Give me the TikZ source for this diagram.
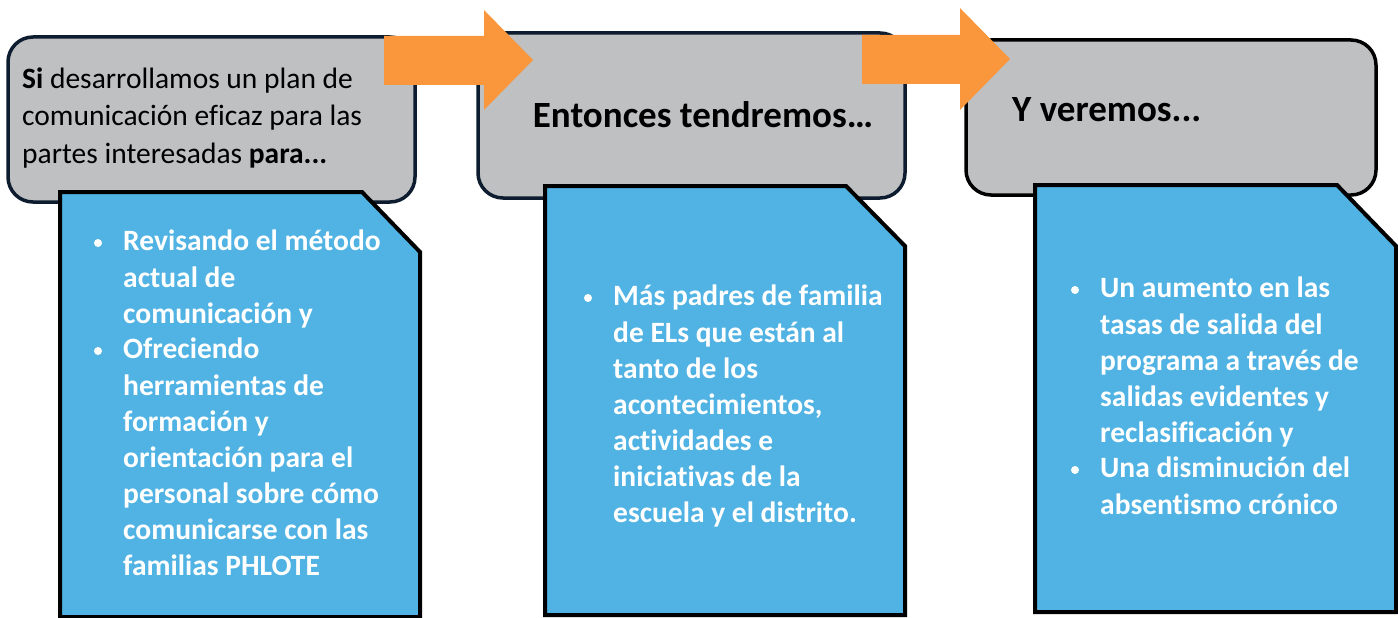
\documentclass[tikz,border=0pt]{standalone}
\usepackage{fontspec}
\setmainfont[Ligatures=NoCommon]{Carlito}
\usetikzlibrary{positioning}
\definecolor{boxgray}{HTML}{BFC0C2}
\definecolor{boxblue}{HTML}{50B3E3}
\definecolor{arrorange}{HTML}{FA963B}
\definecolor{edgenavy}{HTML}{0E1C2F}
\tikzset{font=\fontsize{29.5}{37.5}\selectfont}
\tikzstyle{graybox}=[fill=boxgray,draw=edgenavy,line width=3.5pt,rounded corners=25pt]
\tikzstyle{bluebox}=[fill=boxblue,draw=black,line width=4pt,line join=miter]
\tikzstyle{flowarrow}=[fill=arrorange]
\tikzstyle{headtext}=[inner sep=0pt,align=left,text=black]
\tikzstyle{bluetext}=[inner sep=0pt,align=left,text=white,font=\fontsize{29.5}{36.1}\selectfont\bfseries]
\tikzstyle{bul}=[circle,fill=white,inner sep=0pt,minimum size=8pt]

\begin{document}
\begin{tikzpicture}[x=1pt,y=-1pt]
	\useasboundingbox (0,0) rectangle (1398,618);
	% gray heads
	\draw[style=graybox] (8,37) rectangle (415,202);
	\draw[style=graybox] (478,33) rectangle (905,198);
	\draw[style=graybox,draw=black] (966,40) rectangle (1376,195);
	% blue pages with cut corner
	\draw[style=bluebox] (60,192) -- (362,192) -- (420,252) -- (420,617) -- (60,617) -- cycle;
	\draw[style=bluebox] (545,186) -- (846,186) -- (905,246) -- (905,615) -- (545,615) -- cycle;
	\draw[style=bluebox] (1035,185) -- (1337,185) -- (1396,246) -- (1396,612) -- (1035,612) -- cycle;
	% arrows
	\fill[style=flowarrow] (384,36) -- (484,36) -- (484,10) -- (533,60) -- (484,110) -- (484,85) -- (384,85) -- cycle;
	\fill[style=flowarrow] (862,35) -- (960,35) -- (960,8) -- (1010,59) -- (960,110) -- (960,84) -- (862,84) -- cycle;
	% head texts
	\node[style=headtext,anchor=west] (si) at (22,118) {\textbf{Si} desarrollamos un plan de\\comunicación eficaz para las\\partes interesadas \textbf{para...}};
	\node[style=headtext,font=\fontsize{37}{44}\selectfont\bfseries] (entonces) at (703,115) {Entonces tendremos…};
	\node[style=headtext,anchor=west,font=\fontsize{37}{44}\selectfont\bfseries] (veremos) at (1012,110) {Y veremos...};
	% bullet texts
	\node[style=bluetext,anchor=north west] (rev) at (123,230) {Revisando el método\\actual de\\comunicación y};
	\node[style=bluetext,anchor=north west] (ofr) at (123,338) {Ofreciendo\\herramientas de\\formación y\\orientación para el\\personal sobre cómo\\comunicarse con las\\familias PHLOTE};
	\node[style=bluetext,anchor=north west] (mas) at (613,285) {Más padres de familia\\de ELs que están al\\tanto de los\\acontecimientos,\\actividades e\\iniciativas de la\\escuela y el distrito.};
	\node[style=bluetext,anchor=north west] (aum) at (1100,277) {Un aumento en las\\tasas de salida del\\programa a través de\\salidas evidentes y\\reclasificación y};
	\node[style=bluetext,anchor=north west] (dis) at (1100,457) {Una disminución del\\absentismo crónico};
	\node[style=bul] (b1) at ([shift={(-25,13)}]rev.north west) {};
	\node[style=bul] (b2) at ([shift={(-25,13)}]ofr.north west) {};
	\node[style=bul] (b3) at ([shift={(-25,13)}]mas.north west) {};
	\node[style=bul] (b4) at ([shift={(-25,13)}]aum.north west) {};
	\node[style=bul] (b5) at ([shift={(-25,13)}]dis.north west) {};
\end{tikzpicture}
\end{document}
